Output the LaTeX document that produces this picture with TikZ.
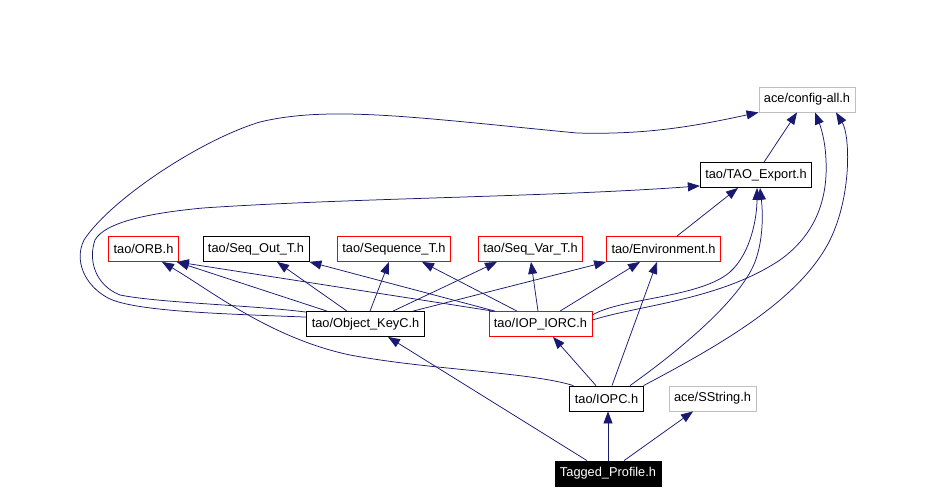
\documentclass[tikz,border=0pt]{standalone}
\usepackage{fontspec}
\setmainfont{Liberation Sans}
\usepackage{tikz}
\usetikzlibrary{arrows.meta}
\definecolor{depblue}{RGB}{25,25,112}
\definecolor{extgray}{RGB}{191,191,191}
\tikzset{
  hfile/.style={draw, line width=0.8pt, inner xsep=5pt, inner ysep=0pt, minimum height=25pt, font=\fontsize{12.8}{14}\selectfont},
  redfile/.style={hfile, draw=red},
  extfile/.style={hfile, draw=extgray},
  dep/.style={draw=depblue, line width=0.75pt, -{Triangle[length=12pt,width=9pt]}}
}

\begin{document}
\begin{tikzpicture}[x=1pt,y=-1pt]
\useasboundingbox (0,0) rectangle (928,503);
%\draw [help lines, step=50] (0,0) grid (928,503);
\node [extfile] (cfg) at (807,99.5) {ace/config-all.h};
\node [hfile] (taoexp) at (756,175) {tao/TAO\_Export.h};
\node [redfile] (orb) at (143.5,249) {tao/ORB.h};
\node [hfile] (seqout) at (256,249) {tao/Seq\_Out\_T.h};
\node [redfile] (seqT) at (394,249) {tao/Sequence\_T.h};
\node [redfile] (seqvar) at (530.5,249) {tao/Seq\_Var\_T.h};
\node [redfile] (env) at (663.5,249) {tao/Environment.h};
\node [hfile] (objkey) at (365.5,324) {tao/Object\_KeyC.h};
\node [redfile] (iopiorc) at (540.5,324) {tao/IOP\_IORC.h};
\node [hfile] (iopc) at (606.5,398.5) {tao/IOPC.h};
\node [extfile] (sstring) at (712.5,398.5) {ace/SString.h};
\node [hfile, fill=black, text=white] (tagged) at (608,473.5) {Tagged\_Profile.h};

% Tagged_Profile.h
\draw [dep] (tagged.north) -- (tagged.north |- iopc.south);
\draw [dep] ([xshift=16pt]tagged.north) -- ([xshift=-19.5pt]sstring.south);
\draw [dep] ([xshift=-21pt]tagged.north) -- ([xshift=22.5pt]objkey.south);

% tao/IOPC.h
\draw [dep] ([xshift=-10.5pt]iopc.north) -- ([xshift=12.5pt]iopiorc.south);
\draw [dep] ([xshift=5.5pt]iopc.north) -- ([xshift=-6.5pt]env.south);
\draw [dep] ([xshift=4pt]iopc.north west) .. controls (530,372) and (430,370) .. (350,355)
  .. controls (270,338) and (210,290) .. ([xshift=18.5pt]orb.south);
\draw [dep] ([xshift=23.5pt]iopc.north) .. controls (680,350) and (740,300) .. (755,262)
  .. controls (765,235) and (762,205) .. ([xshift=4pt]taoexp.south);
\draw [dep] (iopc.north east) .. controls (720,345) and (800,300) .. (830,240)
  .. controls (852,195) and (850,135) .. ([xshift=29pt]cfg.south);

% tao/Object_KeyC.h
\draw [dep] ([xshift=-38.5pt]objkey.north) -- ([xshift=-2pt]orb.south east);
\draw [dep] ([xshift=-18.5pt]objkey.north) -- ([xshift=21pt]seqout.south);
\draw [dep] ([xshift=4.5pt]objkey.north) -- ([xshift=-5pt]seqT.south);
\draw [dep] ([xshift=27.5pt]objkey.north) -- ([xshift=-33.5pt]seqvar.south);
\draw [dep] ([xshift=47.5pt]objkey.north) -- (env.south west);
\draw [dep] ([yshift=-1pt]objkey.north west) .. controls (250,305) and (160,303) .. (120,295)
  .. controls (95,285) and (88,260) .. (95,240)
  .. controls (105,222) and (150,213) .. (203,208)
  .. controls (350,198) and (550,197) .. ([yshift=2pt]taoexp.south west);
\draw [dep] ([yshift=-6pt]objkey.north west) .. controls (230,314) and (135,312) .. (108,298)
  .. controls (84,285) and (74,260) .. (84,240)
  .. controls (110,200) and (200,140) .. (260,122)
  .. controls (330,105) and (420,118) .. (577,133)
  .. controls (650,135) and (700,125) .. (cfg.south west);

% tao/IOP_IORC.h
\draw [dep] ([xshift=-47.5pt]iopiorc.north) -- ([xshift=-2pt]orb.south east);
\draw [dep] ([xshift=-45.5pt]iopiorc.north) -- (seqout.south east);
\draw [dep] ([xshift=-23.5pt]iopiorc.north) -- ([xshift=28pt]seqT.south);
\draw [dep] ([xshift=-2.5pt]iopiorc.north) -- ([xshift=0.5pt]seqvar.south);
\draw [dep] ([xshift=19.5pt]iopiorc.north) -- ([xshift=-23.5pt]env.south);
\draw [dep] ([yshift=9pt]iopiorc.east) .. controls (620,298) and (700,298) .. (730,272)
  .. controls (752,252) and (757,215) .. ([xshift=1pt]taoexp.south);
\draw [dep] ([yshift=4pt]iopiorc.east) .. controls (640,305) and (720,300) .. (780,260)
  .. controls (815,235) and (828,200) .. (826,160)
  .. controls (825,135) and (818,120) .. ([xshift=8pt]cfg.south);

% tao/Environment.h, tao/TAO_Export.h
\draw [dep] ([xshift=13.5pt]env.north) -- ([xshift=-18pt]taoexp.south);
\draw [dep] ([xshift=8pt]taoexp.north) -- ([xshift=-10pt]cfg.south);
\end{tikzpicture}
\end{document}
